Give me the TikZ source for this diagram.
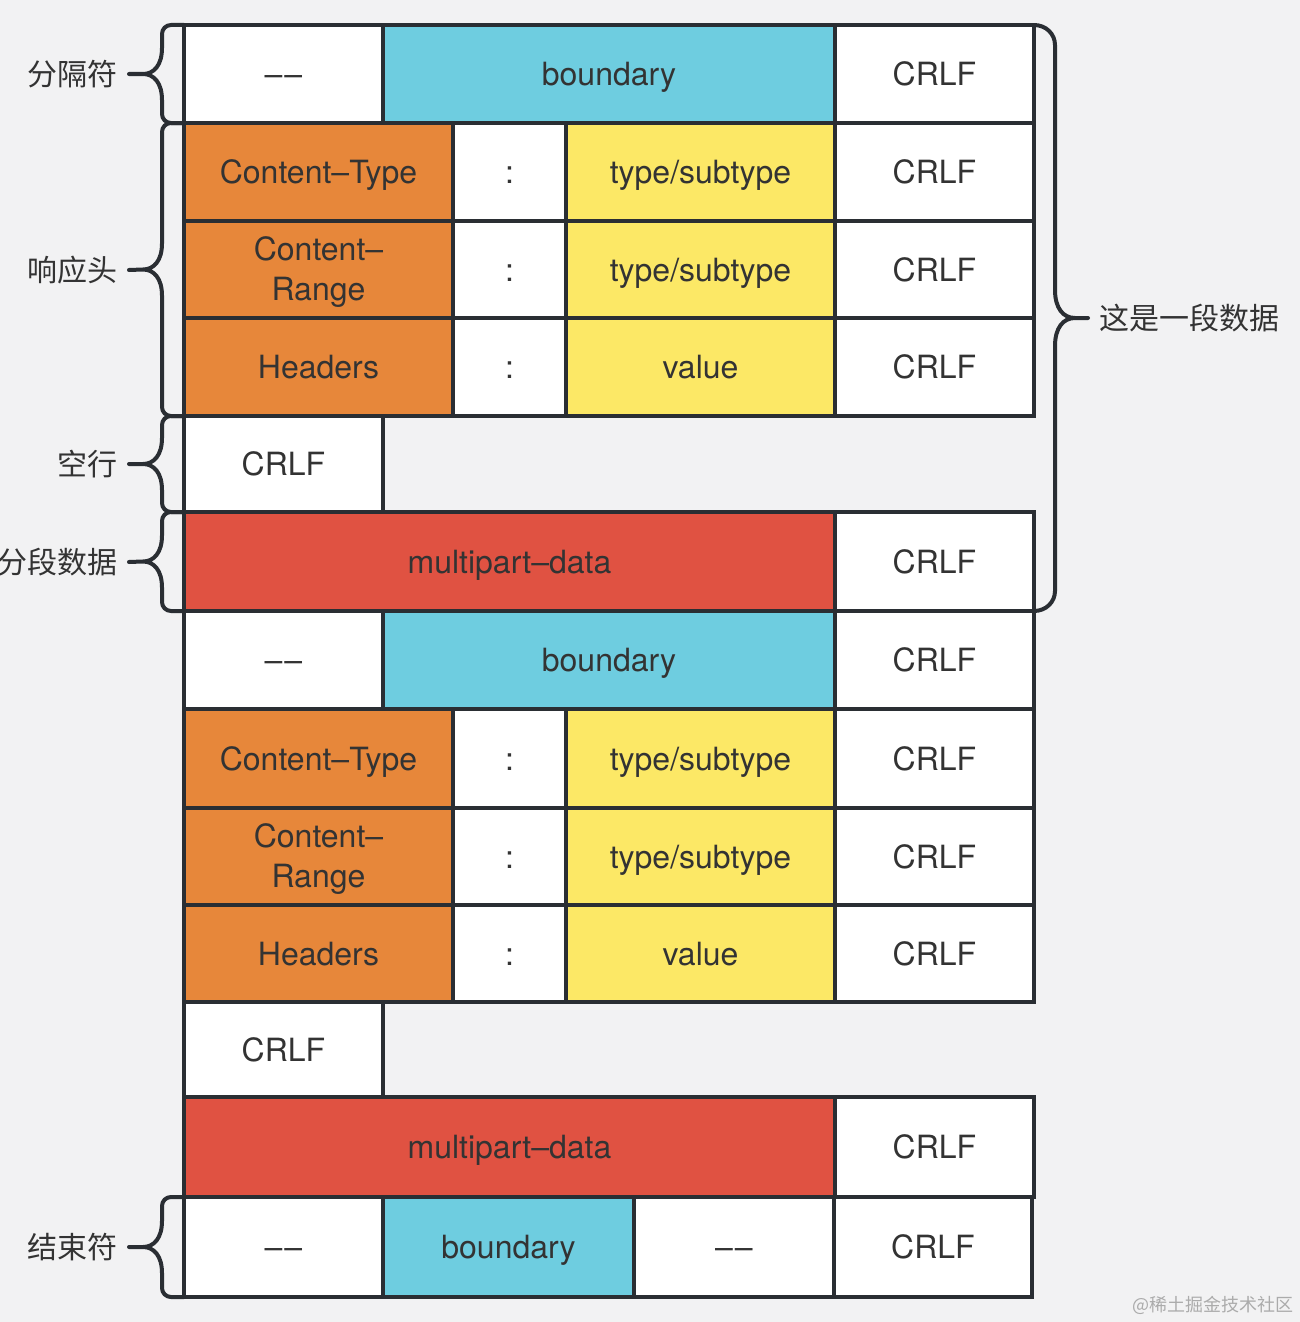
\documentclass[tikz,border=0pt]{standalone}
\usepackage{fontspec}
\setmainfont{TeX Gyre Heros}
\newfontfamily\latinf{TeX Gyre Heros}
\newfontfamily\cjk{Noto Sans CJK SC}
\definecolor{bg}{HTML}{F2F2F3}
\definecolor{ln}{HTML}{2A2E33}
\definecolor{tx}{HTML}{333333}
\definecolor{cblue}{HTML}{6ECDE0}
\definecolor{corange}{HTML}{E7873A}
\definecolor{cyellow}{HTML}{FCE866}
\definecolor{cred}{HTML}{E05242}
\definecolor{wmc}{HTML}{ABABAB}
\tikzset{
  cellbox/.style={draw=ln, line width=4pt, inner sep=0pt, text=tx,
    text height=23pt, text depth=0pt,
    font=\latinf\fontsize{32}{40}\selectfont},
  twotext/.style={inner sep=0pt, align=center, text=tx, yshift=-3pt,
    font=\latinf\fontsize{32}{40}\selectfont},
  lbl/.style={inner xsep=11pt, inner ysep=0pt, text=tx, font=\cjk\fontsize{30}{36}\selectfont},
  br/.style={draw=ln, line width=4pt, line cap=round, line join=round},
}
\newcommand\dd{–\kern2pt–}
\newcommand\mkcell[7]{%
  \node[cellbox, fill=#6, minimum width={(#3-#2)*1pt}, minimum height={(#5-#4)*1pt}]
    (#1) at ({(#2+#3)/2},{(#4+#5)/2}) {#7};}
\newcommand\mktwo[7]{%
  \node[cellbox, fill=#6, minimum width={(#3-#2)*1pt}, minimum height={(#5-#4)*1pt},
    label={[twotext]center:{#7}}]
    (#1) at ({(#2+#3)/2},{(#4+#5)/2}) {};}
% left brace: top, bottom, label node
\newcommand\lbrc[3]{%
  \draw[br] (184,#1) -- (171,#1) .. controls (166,#1) and (162,{#1+4}) .. (162,{#1+9})
    -- (162,{(#1+#2)/2-26})
    .. controls (162,{(#1+#2)/2-9}) and (154,{(#1+#2)/2}) .. (143,{(#1+#2)/2}) -- (#3.east)
    (#3.east) -- (143,{(#1+#2)/2})
    .. controls (154,{(#1+#2)/2}) and (162,{(#1+#2)/2+9}) .. (162,{(#1+#2)/2+26})
    -- (162,{#2-9}) .. controls (162,{#2-4}) and (166,#2) .. (171,#2) -- (184,#2);}
\begin{document}
\begin{tikzpicture}[x=1pt, y=-1pt]
\useasboundingbox (0,0) rectangle (1300,1322);
\fill[bg] (0,0) rectangle (1300,1322);

% row 1: separator
\mkcell{aA}{184}{383}{25}{123}{white}{\dd}
\mkcell{aB}{383}{835}{25}{123}{cblue}{boundary}
\mkcell{aC}{835}{1034}{25}{123}{white}{CRLF}
% rows 2-4: headers
\mkcell{bA}{184}{453}{123}{221}{corange}{Content–Type}
\mkcell{bB}{453}{566}{123}{221}{white}{:}
\mkcell{bC}{566}{835}{123}{221}{cyellow}{type/subtype}
\mkcell{bD}{835}{1034}{123}{221}{white}{CRLF}
\mktwo{cA}{184}{453}{221}{318}{corange}{Content–\\Range}
\mkcell{cB}{453}{566}{221}{318}{white}{:}
\mkcell{cC}{566}{835}{221}{318}{cyellow}{type/subtype}
\mkcell{cD}{835}{1034}{221}{318}{white}{CRLF}
\mkcell{dA}{184}{453}{318}{416}{corange}{Headers}
\mkcell{dB}{453}{566}{318}{416}{white}{:}
\mkcell{dC}{566}{835}{318}{416}{cyellow}{value}
\mkcell{dD}{835}{1034}{318}{416}{white}{CRLF}
% row 5: empty line
\mkcell{eA}{184}{383}{416}{512}{white}{CRLF}
% row 6: data
\mkcell{fA}{184}{835}{512}{611}{cred}{multipart–data}
\mkcell{fB}{835}{1034}{512}{611}{white}{CRLF}
% row 7: separator
\mkcell{gA}{184}{383}{611}{709}{white}{\dd}
\mkcell{gB}{383}{835}{611}{709}{cblue}{boundary}
\mkcell{gC}{835}{1034}{611}{709}{white}{CRLF}
% rows 8-10: headers
\mkcell{hA}{184}{453}{709}{808}{corange}{Content–Type}
\mkcell{hB}{453}{566}{709}{808}{white}{:}
\mkcell{hC}{566}{835}{709}{808}{cyellow}{type/subtype}
\mkcell{hD}{835}{1034}{709}{808}{white}{CRLF}
\mktwo{iA}{184}{453}{808}{905}{corange}{Content–\\Range}
\mkcell{iB}{453}{566}{808}{905}{white}{:}
\mkcell{iC}{566}{835}{808}{905}{cyellow}{type/subtype}
\mkcell{iD}{835}{1034}{808}{905}{white}{CRLF}
\mkcell{jA}{184}{453}{905}{1002}{corange}{Headers}
\mkcell{jB}{453}{566}{905}{1002}{white}{:}
\mkcell{jC}{566}{835}{905}{1002}{cyellow}{value}
\mkcell{jD}{835}{1034}{905}{1002}{white}{CRLF}
% row 11
\mkcell{kA}{184}{383}{1002}{1097}{white}{CRLF}
% row 12
\mkcell{lA}{184}{835}{1097}{1197}{cred}{multipart–data}
\mkcell{lB}{835}{1034}{1097}{1197}{white}{CRLF}
% row 13: end
\mkcell{mA}{184}{383}{1197}{1297}{white}{\dd}
\mkcell{mB}{383}{634}{1197}{1297}{cblue}{boundary}
\mkcell{mC}{634}{834}{1197}{1297}{white}{\dd}
\mkcell{mD}{834}{1032}{1197}{1297}{white}{CRLF}

% labels
\node[lbl, anchor=east] (L1) at (129,74) {分隔符};
\node[lbl, anchor=east] (L2) at (129,270) {响应头};
\node[lbl, anchor=east] (L3) at (129,464) {空行};
\node[lbl, anchor=east] (L4) at (129,562) {分段数据};
\node[lbl, anchor=east] (L5) at (129,1247) {结束符};
\node[lbl, anchor=west] (R1) at (1088,318) {这是一段数据};

% braces
\lbrc{25}{123}{L1}
\lbrc{123}{416}{L2}
\lbrc{416}{512}{L3}
\lbrc{512}{611}{L4}
\lbrc{1197}{1297}{L5}
\draw[br] (1034,25) .. controls (1046,25) and (1055,34) .. (1055,45)
  -- (1055,290) .. controls (1055,308) and (1063,318) .. (1075,318) -- (R1.west)
  (R1.west) -- (1075,318) .. controls (1063,318) and (1055,328) .. (1055,346)
  -- (1055,591) .. controls (1055,602) and (1046,611) .. (1034,611);

% watermark
\node[anchor=east, inner sep=0pt, text=wmc, font=\cjk\fontsize{18}{20}\selectfont] (wm) at (1294,1305) {@稀土掘金技术社区};
\end{tikzpicture}
\end{document}
